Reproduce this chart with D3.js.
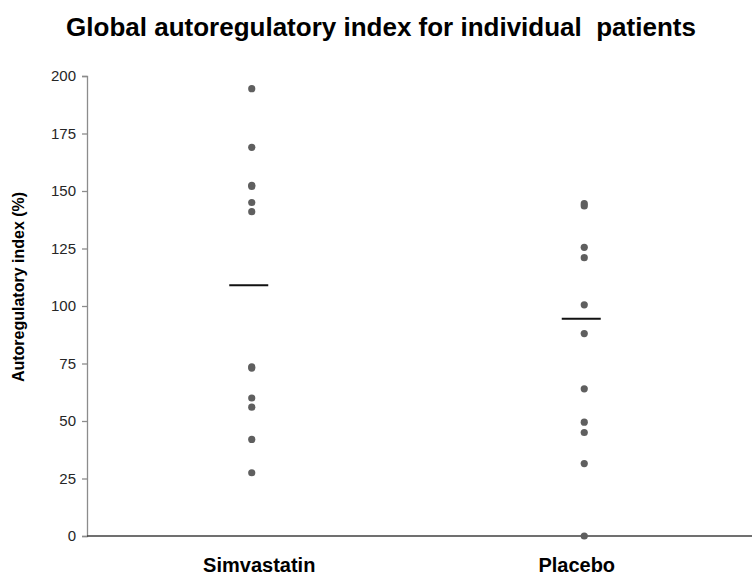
<!DOCTYPE html>
<html>
<head>
<meta charset="utf-8">
<script src="https://cdn.jsdelivr.net/npm/d3@7"></script>
<style>
  body { margin: 0; background: #fff; }
  text { font-family: "Liberation Sans", Arial, sans-serif; }
</style>
</head>
<body>
<div id="chart"></div>
<script>
const width = 754,
height = 580,
margin = { top: 76, right: 2, bottom: 44, left: 87 };

const groups = ['Simvastatin', 'Placebo'];
const simvastatin = [194.5, 169, 152.5, 152, 145, 141, 73.5, 73, 60, 56, 42, 27.5];
const placebo = [144.5, 143.5, 125.5, 121, 100.5, 88, 64, 49.5, 45, 31.5, 0];
const means = [109, 94.5];
const yTicks = [0, 25, 50, 75, 100, 125, 150, 175, 200];

const points = [];
simvastatin.forEach(v => points.push({ group: 'Simvastatin', value: v }));
placebo.forEach(v => points.push({ group: 'Placebo', value: v }));

const svg = d3.select('#chart').
append('svg').
attr('width', width).
attr('height', height);

const x = d3.scalePoint().
domain(groups).
range([margin.left, width - margin.right]).
padding(0.5);

const y = d3.scaleLinear().
domain([0, 200]).
range([height - margin.bottom, margin.top]);

// y axis
const yAxis = svg.append('g').
attr('transform', `translate(${margin.left},0)`).
call(d3.axisLeft(y).tickValues(yTicks).tickSize(5).tickPadding(6));
yAxis.select('.domain').attr('stroke', '#8c8c8c').attr('stroke-width', 1.3);
yAxis.selectAll('.tick line').attr('stroke', '#8c8c8c').attr('stroke-width', 1.3);
yAxis.selectAll('.tick text').
style('font-size', '15px').
attr('fill', '#262626');

// x axis line
svg.append('line').
attr('x1', margin.left).
attr('x2', width - margin.right).
attr('y1', y(0)).
attr('y2', y(0)).
attr('stroke', '#404040').
attr('stroke-width', 1.3);

// dots
svg.selectAll('circle.dot').
data(points).
enter().
append('circle').
attr('class', 'dot').
attr('cx', d => x(d.group) - 1.5).
attr('cy', d => y(d.value)).
attr('r', 3.6).
attr('fill', '#5f5f5f');

// mean lines
svg.selectAll('line.mean').
data(groups).
enter().
append('line').
attr('class', 'mean').
attr('x1', d => x(d) - 24).
attr('x2', d => x(d) + 15).
attr('y1', (d, i) => y(means[i])).
attr('y2', (d, i) => y(means[i])).
attr('stroke', '#111').
attr('stroke-width', 2);

// group labels (slightly off-centre in the original)
svg.selectAll('text.group').
data(groups).
enter().
append('text').
attr('class', 'group').
attr('x', (d, i) => x(d) + (i === 0 ? 6 : -9)).
attr('y', 572).
attr('text-anchor', 'middle').
style('font-size', '20px').
style('font-weight', 'bold').
text(d => d);

// y label
svg.append('text').
attr('transform', 'translate(24,287) rotate(-90)').
attr('text-anchor', 'middle').
style('font-size', '16px').
style('font-weight', 'bold').
text('Autoregulatory index (%)');

// title
svg.append('text').
attr('x', 381).
attr('y', 36).
attr('text-anchor', 'middle').
style('font-size', '26px').
style('font-weight', 'bold').
style('white-space', 'pre').
text('Global autoregulatory index for individual  patients');
</script>
</body>
</html>
